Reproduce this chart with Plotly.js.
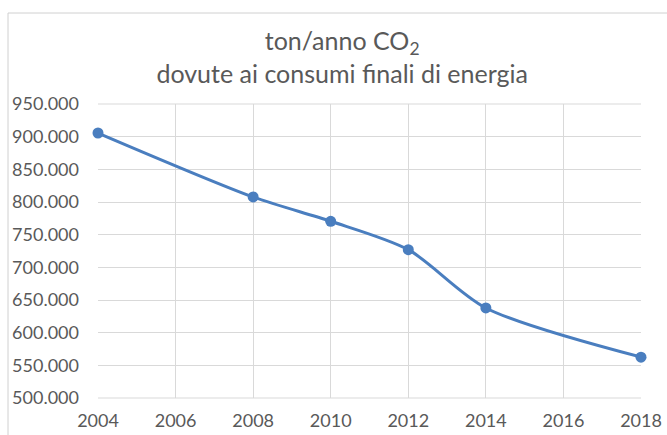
<!DOCTYPE html>
<html>
<head>
<meta charset="utf-8">
<script src="https://cdn.plot.ly/plotly-3.0.1.min.js"></script>
<style>html,body{margin:0;padding:0;background:#fff;}#chart{width:667px;height:435px;}</style>
</head>
<body>
<div id="chart"></div>
<script>
const years = [2004, 2008, 2010, 2012, 2014, 2018];
const co2Tons = [905600, 807700, 770500, 727000, 637800, 562500];
const yTickVals = [500000, 550000, 600000, 650000, 700000, 750000, 800000, 850000, 900000, 950000];
const xTickVals = [2004, 2006, 2008, 2010, 2012, 2014, 2016, 2018];
const titleText = 'ton/anno CO<sub>2</sub><br>dovute ai consumi finali di energia';

const fontFam = 'Lato, "Open Sans", sans-serif';
const grey = '#595959';

const trace = {
  x: years, y: co2Tons, type: 'scatter', mode: 'lines+markers',
  line: {color: '#4A7EBF', width: 3, shape: 'spline', smoothing: 0.8},
  marker: {color: '#4A7EBF', size: 11},
  cliponaxis: false,
  hoverinfo: 'x+y'
};

const layout = {
  width: 667, height: 435,
  margin: {l: 98, r: 26, t: 104, b: 37},
  paper_bgcolor: '#fff', plot_bgcolor: '#fff',
  separators: ',.',
  showlegend: false,
  font: {family: fontFam, color: grey, size: 18},
  title: {text: titleText, x: 0.513, xanchor: 'center', y: 0.885, yanchor: 'top', yref: 'container',
          font: {family: fontFam, size: 25, color: grey}},
  xaxis: {range: [2004, 2018], tickvals: xTickVals, showgrid: true, gridcolor: '#d9d9d9', gridwidth: 1,
          zeroline: false, showline: false, ticks: '', ticklabelstandoff: 10,
          tickfont: {size: 18, color: grey}, fixedrange: true},
  yaxis: {range: [500000, 950000], tickvals: yTickVals, tickformat: ',d', showgrid: true, gridcolor: '#d9d9d9',
          gridwidth: 1, zeroline: false, showline: false, ticks: '', ticklabelstandoff: 18,
          tickfont: {size: 18, color: grey}, fixedrange: true},
  shapes: [
    {type: 'line', xref: 'paper', yref: 'paper', x0: 0, x1: 1, y0: 0, y1: 0, line: {color: '#d9d9d9', width: 1}, layer: 'below'},
    {type: 'line', xref: 'paper', yref: 'paper', x0: 0, x1: 1, y0: 1, y1: 1, line: {color: '#d9d9d9', width: 1}, layer: 'below'}
  ]
};

// outer chart border (container frame)
const pw = 667 - 98 - 26, ph = 435 - 104 - 37;
layout.shapes.push({type: 'line', xref: 'paper', yref: 'paper', x0: (8 - 98) / pw, x1: (667 - 98) / pw,
  y0: (435 - 37 - 13) / ph, y1: (435 - 37 - 13) / ph, line: {color: '#d0d0d0', width: 1}});
layout.shapes.push({type: 'line', xref: 'paper', yref: 'paper', x0: (8 - 98) / pw, x1: (8 - 98) / pw,
  y0: (435 - 37 - 13) / ph, y1: -37 / ph - 0.01, line: {color: '#d0d0d0', width: 1}});

Plotly.newPlot('chart', [trace], layout, {displayModeBar: false, staticPlot: true});
</script>
</body>
</html>
